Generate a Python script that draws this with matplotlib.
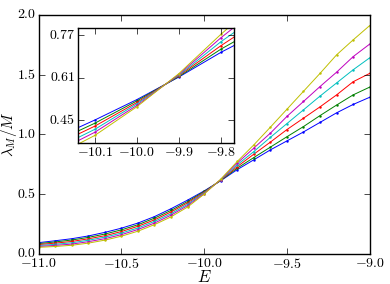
import matplotlib
matplotlib.use("Agg")
import matplotlib.pyplot as plt
import numpy as np

# energy grid and lambda_M/M for six system sizes (blue -> yellow)
E = [-11.0, -10.9, -10.8, -10.7, -10.6, -10.5, -10.4, -10.3, -10.2, -10.1, -10.0,
     -9.9, -9.8, -9.7, -9.6, -9.5, -9.4, -9.3, -9.2, -9.1, -9.0]

lam_b = [0.094, 0.110, 0.127, 0.150, 0.180, 0.215, 0.258, 0.312, 0.378, 0.450, 0.527,
         0.612, 0.705, 0.787, 0.870, 0.945, 1.020, 1.100, 1.180, 1.250, 1.310]
lam_g = [0.086, 0.100, 0.116, 0.138, 0.166, 0.201, 0.244, 0.299, 0.364, 0.438, 0.522,
         0.614, 0.717, 0.806, 0.893, 0.980, 1.065, 1.157, 1.245, 1.330, 1.395]
lam_r = [0.078, 0.090, 0.104, 0.126, 0.152, 0.187, 0.231, 0.285, 0.351, 0.427, 0.516,
         0.617, 0.730, 0.834, 0.935, 1.040, 1.135, 1.230, 1.330, 1.440, 1.510]
lam_c = [0.070, 0.080, 0.093, 0.114, 0.140, 0.174, 0.217, 0.272, 0.337, 0.415, 0.511,
         0.619, 0.745, 0.856, 0.975, 1.090, 1.205, 1.320, 1.430, 1.540, 1.640]
lam_m = [0.062, 0.071, 0.082, 0.102, 0.127, 0.161, 0.204, 0.258, 0.324, 0.404, 0.505,
         0.622, 0.760, 0.885, 1.010, 1.150, 1.275, 1.400, 1.520, 1.650, 1.755]
lam_y = [0.055, 0.062, 0.072, 0.090, 0.115, 0.148, 0.190, 0.245, 0.310, 0.392, 0.500,
         0.625, 0.773, 0.912, 1.060, 1.210, 1.360, 1.510, 1.665, 1.790, 1.910]

series = [lam_b, lam_g, lam_r, lam_c, lam_m, lam_y]
colors = ['b', 'g', 'r', 'c', 'm', 'y']

plt.style.use('classic')
plt.rcParams['mathtext.fontset'] = 'cm'
plt.rcParams['font.family'] = 'serif'
plt.rcParams['font.serif'] = ['cmr10', 'DejaVu Serif']
plt.rcParams['axes.formatter.use_mathtext'] = True
plt.rcParams['axes.formatter.useoffset'] = False
plt.rcParams['font.size'] = 10

fig = plt.figure(figsize=(3.9, 2.84), dpi=100, facecolor='white')
ax = fig.add_axes([0.099, 0.106, 0.849, 0.842])
for y, c in zip(series, colors):
    ax.plot(E, y, color=c, marker='o', markersize=1.4, markeredgewidth=0.3,
            markeredgecolor=c, linewidth=0.7)
ax.set_xlim(-11.0, -9.0)
ax.set_ylim(0.0, 2.0)
ax.set_xticks([-11.0, -10.5, -10.0, -9.5, -9.0])
ax.set_yticks([0.0, 0.5, 1.0, 1.5, 2.0])
ax.tick_params(labelsize=10, pad=2)
ax.set_xlabel(r'$E$', fontsize=12)
ax.set_ylabel(r'$\lambda_M/M$', fontsize=11)
ax.xaxis.set_label_coords(0.5, -0.062)
ax.yaxis.set_label_coords(-0.060, 0.5)

ins = fig.add_axes([0.2, 0.496, 0.399, 0.405])
for y, c in zip(series, colors):
    ins.plot(E, y, color=c, marker='o', markersize=1.4, markeredgewidth=0.3,
             markeredgecolor=c, linewidth=0.7)
ins.set_xlim(-10.14, -9.77)
ins.set_ylim(0.363, 0.796)
ins.set_xticks([-10.1, -10.0, -9.9, -9.8])
ins.set_yticks([0.45, 0.61, 0.77])
ins.tick_params(labelsize=10, pad=2)

fig.savefig('out.png', dpi=100, facecolor='white')
